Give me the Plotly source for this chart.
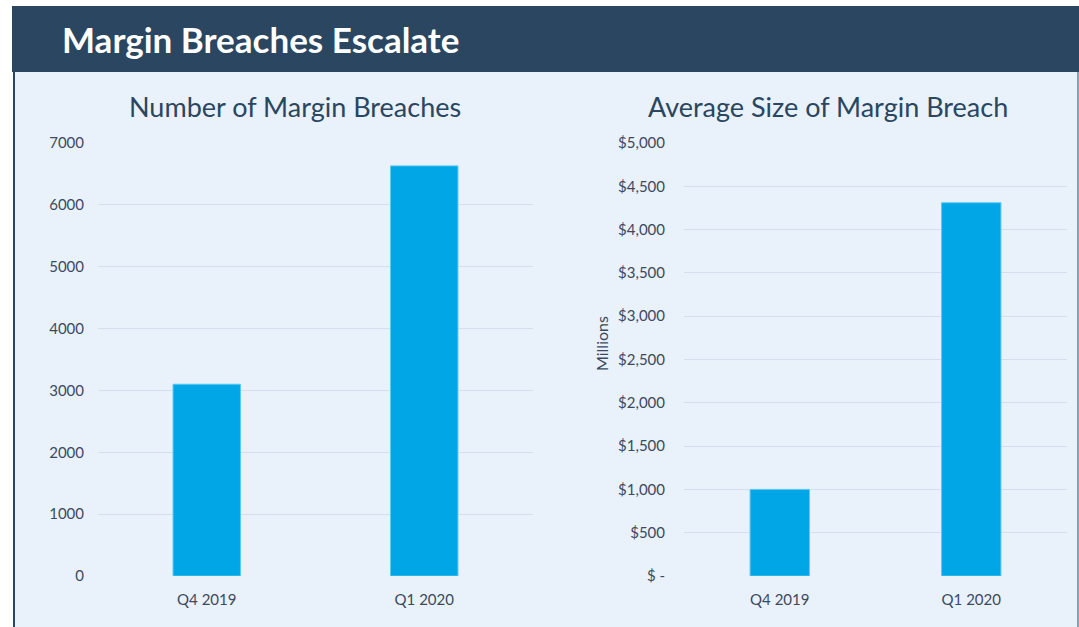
import plotly.graph_objects as go

categories = ["Q4 2019", "Q1 2020"]
breach_counts = [3100, 6630]
avg_size_millions = [1000, 4310]
left_ticks = [0, 1000, 2000, 3000, 4000, 5000, 6000, 7000]
right_ticks = [0, 500, 1000, 1500, 2000, 2500, 3000, 3500, 4000, 4500, 5000]
right_ticktext = ["$ -", "$500", "$1,000", "$1,500", "$2,000", "$2,500", "$3,000",
                  "$3,500", "$4,000", "$4,500", "$5,000"]

W, H = 1079, 627
BAR = "#00A6E6"
DARK = "#2A4661"
BG = "#E9F1FA"
GRID = "#D3DFEC"
TXT = "#3B4A60"
FONT = "Lato, 'Open Sans', sans-serif"

def px(x):
    return x / W

def py(y):
    return 1 - y / H

fig = go.Figure()
fig.add_trace(go.Bar(x=categories, y=breach_counts, xaxis="x", yaxis="y",
                     marker=dict(color=BAR, line=dict(color="#5CC8F2", width=1)),
                     width=0.31, hoverinfo="x+y"))
fig.add_trace(go.Bar(x=categories, y=avg_size_millions, xaxis="x2", yaxis="y2",
                     marker=dict(color=BAR, line=dict(color="#5CC8F2", width=1)),
                     width=0.31, hoverinfo="x+y"))

ydom = [py(576), py(143)]
xcommon = dict(showline=False, zeroline=False, automargin=False, showgrid=False, ticks="",
               ticklabelstandoff=13, tickfont=dict(family=FONT, size=15, color=TXT))
ycommon = dict(showline=False, zeroline=False, automargin=False, ticks="",
               showgrid=True, gridcolor=GRID, gridwidth=1,
               tickfont=dict(family=FONT, size=15, color=TXT))

fig.update_layout(
    template="none",
    width=W, height=H, autosize=False,
    margin=dict(l=0, r=0, t=0, b=0, pad=0),
    paper_bgcolor="white",
    plot_bgcolor="rgba(0,0,0,0)",
    showlegend=False,
    xaxis=dict(domain=[px(98), px(533)], anchor="y", **xcommon),
    yaxis=dict(domain=ydom, anchor="x", range=[0, 7000], tickvals=left_ticks,
               ticklabelstandoff=13, **ycommon),
    xaxis2=dict(domain=[px(684), px(1067)], anchor="y2", **xcommon),
    yaxis2=dict(domain=ydom, anchor="x2", range=[0, 5000], tickvals=right_ticks,
                ticktext=right_ticktext, ticklabelstandoff=18, **ycommon),
    shapes=[
        dict(type="rect", xref="paper", yref="paper", x0=px(13), x1=px(1078),
             y0=0, y1=py(72), fillcolor=BG, line=dict(width=0), layer="below"),
        dict(type="line", xref="paper", yref="paper", x0=px(14), x1=px(14),
             y0=0, y1=py(72), line=dict(color=DARK, width=2), layer="below"),
        dict(type="line", xref="paper", yref="paper", x0=px(1078), x1=px(1078),
             y0=0, y1=py(72), line=dict(color=DARK, width=1), layer="below"),
        dict(type="rect", xref="paper", yref="paper", x0=px(12), x1=1,
             y0=py(72), y1=py(6), fillcolor="#2A4661", line=dict(width=0), layer="below"),
    ],
    annotations=[
        dict(text="<b>Margin Breaches Escalate</b>", xref="paper", yref="paper",
             x=px(60), y=py(39), xanchor="left", yanchor="middle", showarrow=False,
             font=dict(family=FONT, size=35, color="white")),
        dict(text="Number of Margin Breaches", xref="paper", yref="paper",
             x=px(295), y=py(107), xanchor="center", yanchor="middle", showarrow=False,
             font=dict(family=FONT, size=27, color=DARK)),
        dict(text="Average Size of Margin Breach", xref="paper", yref="paper",
             x=px(828), y=py(107), xanchor="center", yanchor="middle", showarrow=False,
             font=dict(family=FONT, size=27, color=DARK)),
        dict(text="Millions", xref="paper", yref="paper", textangle=-90,
             x=px(601), y=py(344), xanchor="center", yanchor="middle", showarrow=False,
             font=dict(family=FONT, size=16, color=TXT)),
    ],
)

fig.write_html("out.html", config={"displayModeBar": False},
               post_script="document.body.style.margin='0';")
